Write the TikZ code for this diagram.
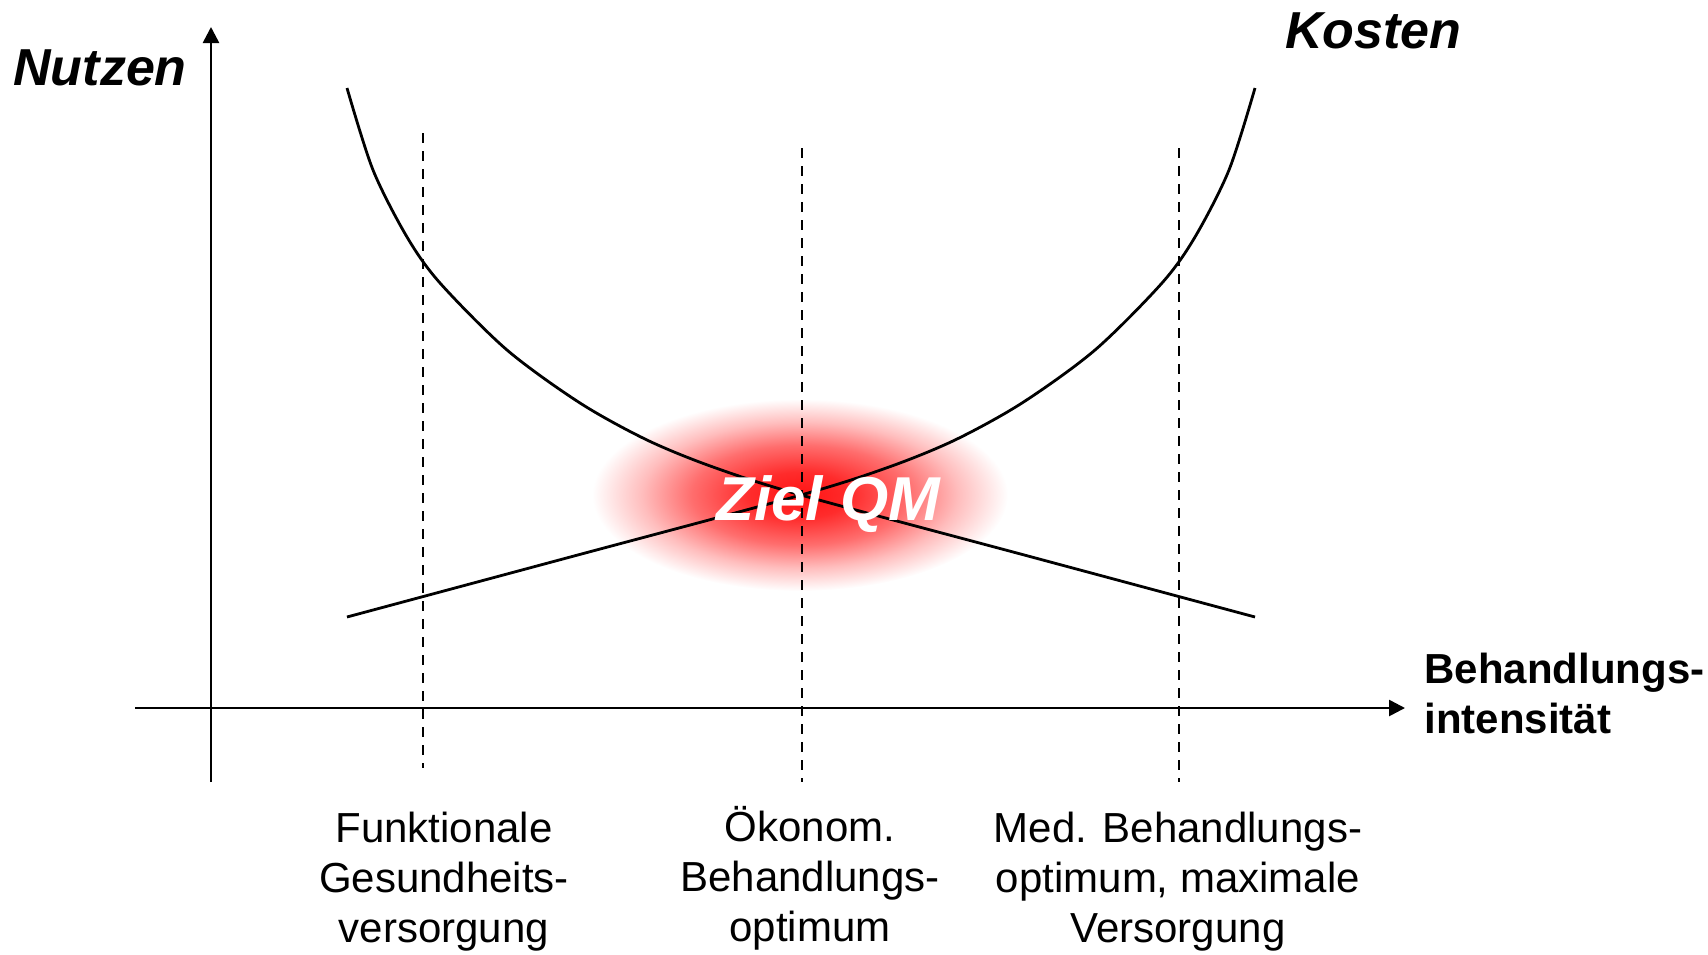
\documentclass[tikz,border=0pt]{standalone}
\usepackage{fontspec}
\setmainfont{Liberation Sans}
\usetikzlibrary{arrows.meta,positioning}
\definecolor{Ink}{HTML}{000000}
\definecolor{GlowRed}{HTML}{FF1414}
\pgfdeclareradialshading{glow}{\pgfpoint{0bp}{0bp}}{%
  color(0bp)=(GlowRed); color(6bp)=(GlowRed!90!white);
  color(13bp)=(GlowRed!62!white); color(19bp)=(GlowRed!28!white);
  color(25bp)=(white); color(50bp)=(white)}
\tikzset{
  axis/.style={-{Triangle[length=8pt,width=8pt]},line width=1.3pt,draw=Ink},
  guide/.style={line width=1pt,dash pattern=on 5pt off 4pt,draw=Ink},
  curve/.style={line width=1.4pt,draw=Ink},
  title/.style={font=\fontsize{26}{31}\selectfont\bfseries\itshape,inner sep=0pt},
  axislabel/.style={font=\fontsize{21}{25}\selectfont\bfseries,align=left,inner sep=0pt},
  caption/.style={font=\fontsize{21}{25}\selectfont,align=center,inner sep=0pt},
  goal/.style={font=\fontsize{31}{37}\selectfont\bfseries\itshape,text=white,inner sep=0pt}
}

\begin{document}
\begin{tikzpicture}[x=0.5pt,y=-0.5pt]
  \useasboundingbox (0,0) rectangle (1708,954);

  % glow behind the crossing
  \shade[shading=glow] (800,495) ellipse [x radius=104pt,y radius=48pt];

  % axes
  \coordinate (xstart) at (135,708);
  \coordinate (xend) at (1405,708);
  \coordinate (ybot) at (211,782);
  \coordinate (yend) at (211,27);
  \draw[axis] (xstart) -- (xend);
  \draw[axis] (ybot) -- (yend);

  % guide lines
  \coordinate (g1top) at (423,133);
  \coordinate (g1bot) at (423,768);
  \coordinate (g2top) at (802,148);
  \coordinate (g2bot) at (802,782);
  \coordinate (g3top) at (1179,148);
  \coordinate (g3bot) at (1179,782);
  \draw[guide] (g1top) -- (g1bot);
  \draw[guide] (g2top) -- (g2bot);
  \draw[guide] (g3top) -- (g3bot);

  % the two curves
  \draw[curve] plot[smooth] coordinates {(347,88) (373,170) (407,237) (440,283)
    (507,350) (580,403) (647,440) (713,467) (801,495) (1028,556) (1255,617)};
  \draw[curve] plot[smooth] coordinates {(1255,88) (1229,170) (1195,237) (1162,283)
    (1095,350) (1022,403) (955,440) (889,467) (801,495) (574,556) (347,617)};

  \node[title,anchor=base west] (nutzen) at (13,85) {Nutzen};
  \node[title,anchor=base west] (kosten) at (1285,48) {Kosten};
  \node[axislabel,anchor=north west] (intens) at (1424,653) {Behandlungs-\\intensität};
  \node[goal,anchor=base west] (ziel) at (716,520) {Ziel QM};

  \node[caption,anchor=north] (funk) at (444,812) {Funktionale\\Gesundheits-\\versorgung};
  \node[caption,anchor=north] (oekon) at (810,806) {Ökonom.\\Behandlungs-\\optimum};
  \node[caption,anchor=north] (medopt) at (1178,812) {Med. Behandlungs-\\optimum, maximale\\Versorgung};
\end{tikzpicture}
\end{document}
